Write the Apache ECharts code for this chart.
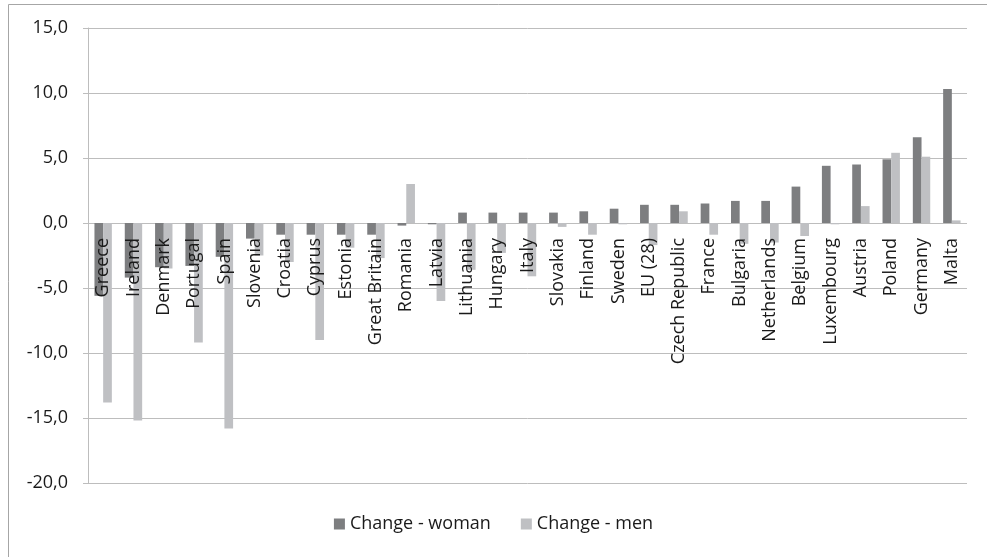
<!DOCTYPE html>
<html>
<head>
<meta charset="utf-8">
<title>Change - woman / men</title>
<script src="https://cdn.jsdelivr.net/npm/echarts@6/dist/echarts.min.js"></script>
<style>
  html, body { margin: 0; padding: 0; background: #ffffff; }
  #chart { width: 987px; height: 557px; }
</style>
</head>
<body>
<div id="chart"></div>
<script>
// Countries, ordered by the change for women
const categories = [
  'Greece', 'Ireland', 'Denmark', 'Portugal', 'Spain', 'Slovenia', 'Croatia',
  'Cyprus', 'Estonia', 'Great Britain', 'Romania', 'Latvia', 'Lithuania',
  'Hungary', 'Italy', 'Slovakia', 'Finland', 'Sweden', 'EU (28)',
  'Czech Republic', 'France', 'Bulgaria', 'Netherlands', 'Belgium',
  'Luxembourg', 'Austria', 'Poland', 'Germany', 'Malta'
];

const changeWoman = [
  -5.6, -4.2, -3.4, -3.3, -2.6, -1.2, -0.9,
  -0.9, -0.9, -0.9, -0.2, -0.1, 0.8,
  0.8, 0.8, 0.8, 0.9, 1.1, 1.4,
  1.4, 1.5, 1.7, 1.7, 2.8,
  4.4, 4.5, 4.9, 6.6, 10.3
];

const changeMen = [
  -13.8, -15.2, -3.5, -9.2, -15.8, -2.5, -3.0,
  -9.0, -1.9, -2.7, 3.0, -6.0, -3.6,
  -2.3, -4.1, -0.3, -0.9, -0.1, -1.7,
  0.9, -0.9, -1.6, -1.5, -1.0,
  -0.1, 1.3, 5.4, 5.1, 0.2
];

const seriesNames = ['Change - woman', 'Change - men'];

// value-axis range and step
const Y_MIN = -20;
const Y_MAX = 15;
const Y_STEP = 5;

const FONT = '"Open Sans", "Liberation Sans", sans-serif';
const GRID_TOP = 28;
const GRID_BOTTOM = 74;
const CHART_H = 557;

// category labels sit just under the zero line: shift the x axis up from the grid bottom
const plotH = CHART_H - GRID_TOP - GRID_BOTTOM;
const zeroOffset = plotH * (0 - Y_MIN) / (Y_MAX - Y_MIN);

const chart = echarts.init(document.getElementById('chart'), null, { renderer: 'canvas' });

chart.setOption({
  backgroundColor: '#ffffff',
  animation: false,
  textStyle: { fontFamily: FONT },
  graphic: [
    {
      type: 'rect',
      shape: { x: 8.5, y: 4.5, width: 1000, height: 600 },
      style: { fill: 'none', stroke: '#a6a6a6', lineWidth: 1 },
      silent: true,
      z: -10
    }
  ],
  grid: {
    left: 88, right: 20, top: GRID_TOP, bottom: GRID_BOTTOM,
    containLabel: false,
    outerBoundsMode: 'none'
  },
  legend: {
    data: seriesNames,
    bottom: 19,
    left: 'center',
    itemWidth: 11,
    itemHeight: 11,
    itemGap: 30,
    icon: 'rect',
    textStyle: { fontFamily: FONT, fontSize: 18, color: '#1a1a1a' }
  },
  xAxis: {
    type: 'category',
    data: categories,
    position: 'bottom',
    offset: -zeroOffset,
    z: 10,
    axisLine: { show: false, onZero: false },
    axisTick: { show: false },
    axisLabel: {
      interval: 0,
      rotate: 90,
      margin: 15,
      fontFamily: FONT,
      fontSize: 18,
      color: '#1a1a1a'
    }
  },
  yAxis: {
    type: 'value',
    min: Y_MIN,
    max: Y_MAX,
    interval: Y_STEP,
    axisLine: { show: true, lineStyle: { color: '#bdbdbd', width: 1 } },
    axisTick: { show: true, length: 5, lineStyle: { color: '#bdbdbd' } },
    splitLine: { show: true, lineStyle: { color: '#bdbdbd', width: 1 } },
    axisLabel: {
      margin: 20,
      fontFamily: FONT,
      fontSize: 18,
      color: '#1a1a1a',
      formatter: v => v.toFixed(1).replace('.', ',')
    }
  },
  series: [
    {
      name: seriesNames[0],
      type: 'bar',
      data: changeWoman,
      barWidth: 8.7,
      barGap: '0%',
      itemStyle: { color: '#7d7e80' },
      z: 2
    },
    {
      name: seriesNames[1],
      type: 'bar',
      data: changeMen,
      barWidth: 8.7,
      barGap: '0%',
      itemStyle: { color: '#bfc0c3' },
      z: 2
    }
  ]
});
</script>
</body>
</html>
